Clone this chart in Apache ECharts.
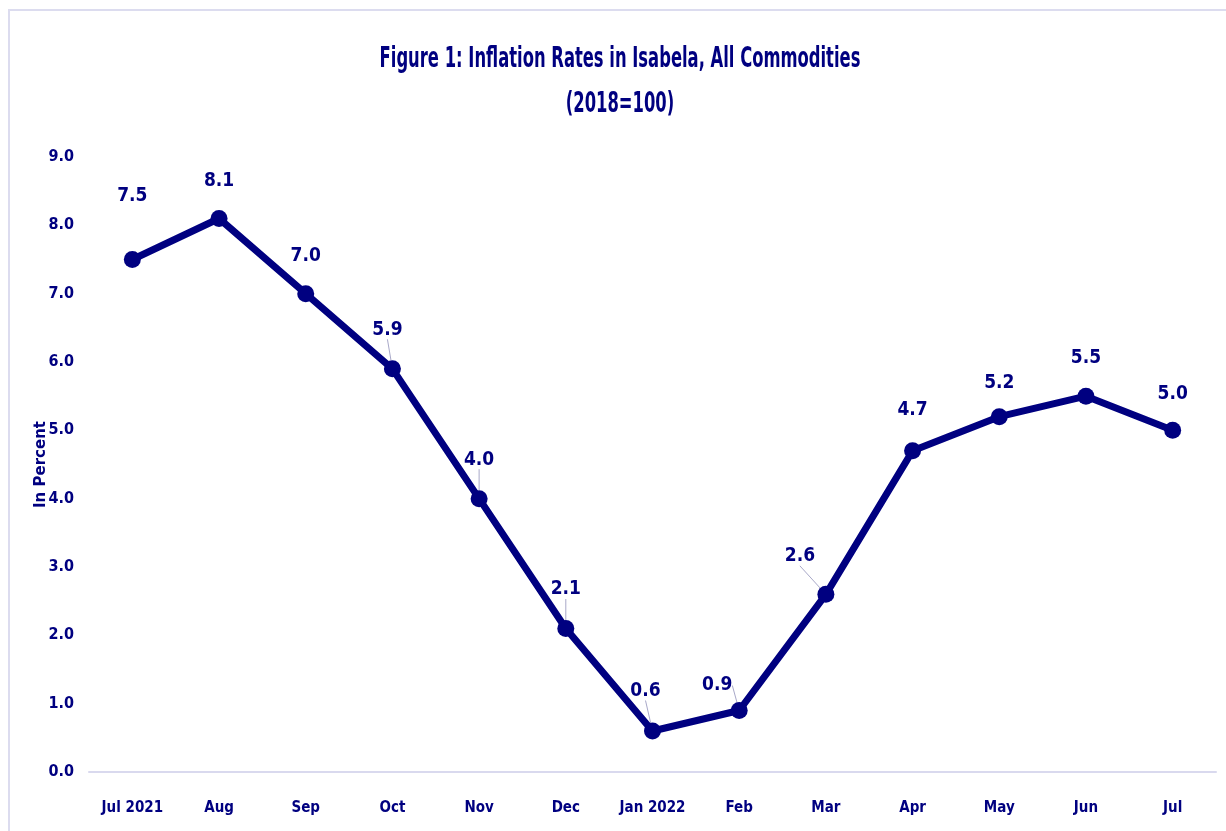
<!DOCTYPE html>
<html>
<head>
<meta charset="utf-8">
<script src="https://cdn.jsdelivr.net/npm/echarts@6/dist/echarts.min.js"></script>
<style>
html,body{margin:0;padding:0;background:#fff;}
#chart{width:1226px;height:831px;}
</style>
</head>
<body>
<div id="chart"></div>
<script>
var categories = ['Jul 2021','Aug','Sep','Oct','Nov','Dec','Jan 2022','Feb','Mar','Apr','May','Jun','Jul'];
var inflation = [7.5, 8.1, 7.0, 5.9, 4.0, 2.1, 0.6, 0.9, 2.6, 4.7, 5.2, 5.5, 5.0];
var yTicks = ['0.0','1.0','2.0','3.0','4.0','5.0','6.0','7.0','8.0','9.0'];
var titleLines = ['Figure 1: Inflation Rates in Isabela, All Commodities', '(2018=100)'];

// label displacement (dx, dy) and leader-line flag per point
var labelShift = [[0,-40],[0,-14],[0,-15],[-5,-16],[0,-16],[0,-16],[-7,-17],[-22,-2],[-26,-15],[0,-18],[0,-11],[0,-15],[0,-13]];
var leader = [false,false,false,true,true,true,true,true,true,false,false,false,false];

var NAVY = '#000080';
var NARROW = "'Liberation Sans Narrow','DejaVu Sans Condensed','Open Sans',sans-serif";

var chart = echarts.init(document.getElementById('chart'));
var seriesData = inflation.map(function (v, i) {
  return { value: v, labelLine: { show: leader[i] } };
});

function titleText(txt, y) {
  return {
    type: 'text', silent: true, x: 620, y: y, scaleX: 0.65,
    style: {
      text: txt, x: 0, y: 0, textAlign: 'center', textVerticalAlign: 'middle', verticalAlign: 'middle',
      font: 'bold 28px ' + NARROW, fill: NAVY
    }
  };
}

chart.setOption({
  backgroundColor: '#ffffff',
  animation: false,
  graphic: [{
    type: 'rect', silent: true, z: -1,
    shape: { x: 9, y: 10, width: 1400, height: 1000 },
    style: { fill: 'none', stroke: '#dcdcef', lineWidth: 2 }
  }, titleText(titleLines[0], 60), titleText(titleLines[1], 105)],
  grid: { left: 89, right: 10, top: 157, bottom: 59, containLabel: false },
  xAxis: {
    type: 'category',
    data: categories,
    boundaryGap: true,
    axisLine: { show: true, lineStyle: { color: '#d9d9ee', width: 2 } },
    axisTick: { show: false },
    axisLabel: {
      margin: 29, interval: 0,
      fontFamily: NARROW, fontWeight: 'bold', fontSize: 15, color: NAVY
    },
    splitLine: { show: false }
  },
  yAxis: {
    type: 'value',
    min: 0, max: 9, interval: 1,
    name: 'In Percent',
    nameLocation: 'middle',
    nameGap: 40,
    nameMoveOverlap: false,
    nameRotate: 90,
    nameTextStyle: {
      fontFamily: "'DejaVu Sans',Verdana,sans-serif", fontWeight: 'bold',
      fontSize: 15, color: NAVY
    },
    axisLine: { show: false },
    axisTick: { show: false },
    splitLine: { show: false },
    axisLabel: {
      margin: 15,
      fontFamily: NARROW, fontWeight: 'bold', fontSize: 16, color: NAVY,
      formatter: function (v) { return yTicks[Math.round(v)] || v.toFixed(1); }
    }
  },
  series: [{
    type: 'line',
    data: seriesData,
    symbol: 'circle',
    symbolSize: 17,
    lineStyle: { color: NAVY, width: 7 },
    itemStyle: { color: NAVY },
    label: {
      show: true, position: 'top', distance: 5,
      fontFamily: NARROW, fontWeight: 'bold', fontSize: 19, color: NAVY,
      formatter: function (p) { return p.value.toFixed(1); }
    },
    labelLine: { show: true, lineStyle: { color: '#a8a8c8', width: 1 } },
    labelLayout: function (params) {
      var s = labelShift[params.dataIndex];
      return { dx: s[0], dy: s[1] };
    }
  }]
});
</script>
</body>
</html>
